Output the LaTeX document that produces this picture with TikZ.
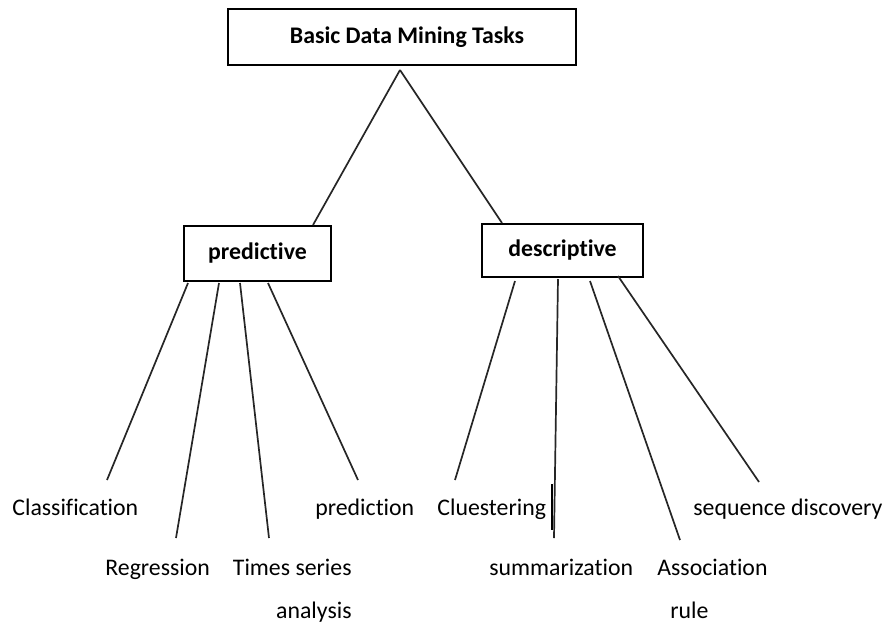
\documentclass[tikz,border=0pt]{standalone}
\usepackage{fontspec}
\setmainfont{Carlito}[Ligatures=NoCommon]
\usetikzlibrary{calc}

\begin{document}
\begin{tikzpicture}[x=0.5pt,y=-0.5pt,
  taskbox/.style={draw,line width=1pt,inner sep=0pt,font=\bfseries\fontsize{11.9}{14}\selectfont},
  leaf/.style={inner sep=0pt,font=\fontsize{11.9}{21.5}\selectfont},
  branch/.style={line width=0.85pt,draw=black!85}]
\useasboundingbox (0,0) rectangle (885,623);
\node[taskbox,minimum width=174pt,minimum height=28pt] (top) at (402,37) {\hspace*{5pt}Basic Data Mining Tasks};
\node[taskbox,minimum width=73.5pt,minimum height=27.5pt] (pred) at (257.5,253.5) {predictive};
\node[taskbox,minimum width=80.5pt,minimum height=26.5pt] (desc) at (562.5,250.5) {descriptive};

\node[leaf,anchor=base west] (cls) at (12,515) {Classification};
\node[leaf,anchor=base west] (reg) at (105,575) {Regression};
\node[leaf,anchor=base east,align=right] (tsa) at (352,618) {Times series\\analysis};
\node[leaf,anchor=base west] (prd) at (315,515) {prediction};
\node[leaf,anchor=base west] (clu) at (437,515) {Cluestering};
\node[leaf,anchor=base west] (sum) at (489,575) {summarization};
\node[leaf,anchor=base west,align=left] (asr) at (657,618) {Association\\\hspace*{6.5pt}rule};
\node[leaf,anchor=base west] (seq) at (693,515) {sequence discovery};

\coordinate (apex) at ($(top.south)+(-2,4)$);
\coordinate (clsEnd) at (107,480);
\coordinate (regEnd) at (176,538);
\coordinate (tsaEnd) at (269,538);
\coordinate (prdEnd) at (358,480);
\coordinate (cluEnd) at (455,480);
\coordinate (sumEnd) at (554,538);
\coordinate (asrEnd) at (680,540);
\coordinate (seqEnd) at (759,482);
\coordinate (barTop) at (552,484);
\coordinate (barBot) at (552,530);

\draw[branch] (apex) -- ($(pred.north)+(55.5,0)$);
\draw[branch] (apex) -- ($(desc.north)+(-60.5,0)$);

\draw[branch] ($(pred.south)+(-69.5,1)$) -- (clsEnd);
\draw[branch] ($(pred.south)+(-38.5,1)$) -- (regEnd);
\draw[branch] ($(pred.south)+(-17.5,1)$) -- (tsaEnd);
\draw[branch] ($(pred.south)+(10.5,1)$) -- (prdEnd);

\draw[branch] ($(desc.south)+(-47.5,3)$) -- (cluEnd);
\draw[branch] ($(desc.south)+(-4.5,1)$) -- (sumEnd);
\draw[branch] ($(desc.south)+(27.5,3)$) -- (asrEnd);
\draw[branch] ($(desc.south)+(55.5,-2)$) -- (seqEnd);

\draw[line width=1pt] (barTop) -- (barBot);
\end{tikzpicture}
\end{document}
